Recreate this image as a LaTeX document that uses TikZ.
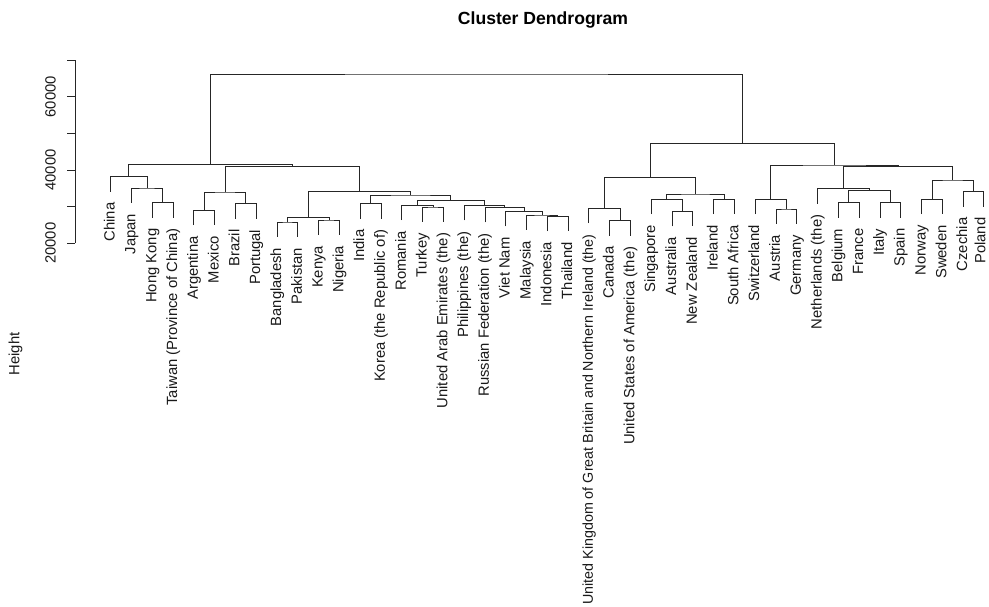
\documentclass[tikz,border=0pt]{standalone}
\usepackage{fontspec}
\setmainfont{Liberation Sans}
\usetikzlibrary{calc}
\newcommand{\leafnode}[6]{%
  \pgfmathsetmacro{\dLx}{110.7+20.79*#2}%
  \pgfmathsetmacro{\dLy}{#3+14.8}%
  \coordinate (#1) at (\dLx,\dLy);
  \node[leaflab,#5] (#1-lab) at (\dLx+4+#6,\dLy+11) {#4};
}
\newcommand{\mergeat}[4]{%
  \path let \p1=(#2), \p2=(#3) in coordinate (#1) at ({0.5*(\x1+\x2)},{-#4pt});
  \draw[dline] (#2) |- (#1) -| (#3);
}
\begin{document}
\begin{tikzpicture}[x=1pt,y=-1pt,
  dline/.style={draw=black!85,line width=0.8pt},
  leaflab/.style={rotate=90,anchor=base east,inner sep=0pt,text=black!90,font=\fontsize{14.8}{17}\selectfont},
  smalllab/.style={font=\fontsize{14.3}{16}\selectfont},
  axlab/.style={rotate=90,anchor=base,inner sep=0pt,text=black!90,font=\fontsize{14.8}{17}\selectfont}]
\useasboundingbox[fill=white] (0,0) rectangle (989,606);
% title and axis title
\node[anchor=base,inner sep=0pt,font=\bfseries\fontsize{17.6}{20}\selectfont] (title) at (543,24) {Cluster Dendrogram};
\node[axlab] (ylab) at (19.5,354) {Height};
% y axis
\draw[dline] (75,60) -- (75,243.3);
\foreach \v/\yy in {20000/243.3,30000/206.7,40000/170,50000/133.3,60000/96.7,70000/60}{
  \draw[dline] (75,\yy) -- (67,\yy);
}
\node[axlab] (t20) at (55.5,243.3) {20000};
\node[axlab] (t40) at (55.5,170) {40000};
\node[axlab] (t60) at (55.5,96.7) {60000};
% leaves
\leafnode{china}{0}{176.7}{China}{}{0}
\leafnode{japan}{1}{188}{Japan}{}{0}
\leafnode{hk}{2}{202.7}{Hong Kong}{}{0}
\leafnode{taiwan}{3}{202.7}{Taiwan (Province of China)}{}{0}
\leafnode{arg}{4}{210.3}{Argentina}{}{0}
\leafnode{mex}{5}{210.3}{Mexico}{}{0}
\leafnode{bra}{6}{203.7}{Brazil}{}{0}
\leafnode{por}{7}{203.7}{Portugal}{}{0}
\leafnode{ban}{8}{222}{Bangladesh}{}{0}
\leafnode{pak}{9}{222}{Pakistan}{}{0}
\leafnode{ken}{10}{220}{Kenya}{}{0}
\leafnode{nig}{11}{220}{Nigeria}{}{0}
\leafnode{ind}{12}{203.7}{India}{}{0}
\leafnode{kor}{13}{203.7}{Korea (the Republic of)}{}{0}
\leafnode{rom}{14}{205.3}{Romania}{}{0}
\leafnode{tur}{15}{207}{Turkey}{}{0}
\leafnode{uae}{16}{207}{United Arab Emirates (the)}{}{0}
\leafnode{phi}{17}{205.5}{Philippines (the)}{}{0}
\leafnode{rus}{18}{207.5}{Russian Federation (the)}{}{0}
\leafnode{vie}{19}{211.5}{Viet Nam}{}{0}
\leafnode{mal}{20}{215}{Malaysia}{}{0}
\leafnode{ido}{21}{216.3}{Indonesia}{}{0}
\leafnode{tha}{22}{216.3}{Thailand}{}{0}
\leafnode{uk}{23}{208.3}{United Kingdom of Great Britain and Northern Ireland (the)}{smalllab}{0}
\leafnode{can}{24}{220.7}{Canada}{}{0}
\leafnode{usa}{25}{220.7}{United States of America (the)}{}{0}
\leafnode{sin}{26}{199.3}{Singapore}{}{0}
\leafnode{aus}{27}{211.5}{Australia}{}{0}
\leafnode{nz}{28}{211.5}{New Zealand}{}{0}
\leafnode{ire}{29}{199.3}{Ireland}{}{0}
\leafnode{sa}{30}{199.3}{South Africa}{}{0}
\leafnode{swi}{31}{199.3}{Switzerland}{}{0}
\leafnode{aut}{32}{209}{Austria}{}{0}
\leafnode{ger}{33}{209}{Germany}{}{0}
\leafnode{net}{34}{188.7}{Netherlands (the)}{}{0}
\leafnode{bel}{35}{202.7}{Belgium}{}{0}
\leafnode{fra}{36}{202.7}{France}{}{0}
\leafnode{ita}{37}{202.7}{Italy}{}{0}
\leafnode{spa}{38}{202.7}{Spain}{}{0}
\leafnode{nor}{39}{199.3}{Norway}{}{0}
\leafnode{swe}{40}{199.3}{Sweden}{}{0}
\leafnode{cze}{41}{191.7}{Czechia}{}{0}
\leafnode{pol}{42}{191.7}{Poland}{}{-2.5}
% merges
\mergeat{mhkt}{hk}{taiwan}{202.7}
\mergeat{mjap}{japan}{mhkt}{188}
\mergeat{A}{china}{mjap}{176.7}
\mergeat{am}{arg}{mex}{210.3}
\mergeat{bp}{bra}{por}{203.7}
\mergeat{B}{am}{bp}{192}
\mergeat{bpak}{ban}{pak}{222}
\mergeat{kn}{ken}{nig}{220}
\mergeat{C1}{bpak}{kn}{217.3}
\mergeat{ik}{ind}{kor}{203.7}
\mergeat{tu}{tur}{uae}{207}
\mergeat{rtu}{rom}{tu}{205.3}
\mergeat{it}{ido}{tha}{216.3}
\mergeat{mit}{mal}{it}{215}
\mergeat{vmit}{vie}{mit}{211.5}
\mergeat{rv}{rus}{vmit}{207.5}
\mergeat{pr}{phi}{rv}{205.5}
\mergeat{rest}{rtu}{pr}{200.7}
\mergeat{C2}{ik}{rest}{195}
\mergeat{C}{C1}{C2}{191.7}
\mergeat{BC}{B}{C}{166.3}
\mergeat{L}{A}{BC}{164.7}
\mergeat{cu}{can}{usa}{220.7}
\mergeat{ukg}{uk}{cu}{208.3}
\mergeat{an}{aus}{nz}{211.5}
\mergeat{san}{sin}{an}{199.3}
\mergeat{isa}{ire}{sa}{199.3}
\mergeat{sg}{san}{isa}{194}
\mergeat{R1}{ukg}{sg}{177.3}
\mergeat{ag}{aut}{ger}{209}
\mergeat{S}{swi}{ag}{199.3}
\mergeat{bf}{bel}{fra}{202.7}
\mergeat{isp}{ita}{spa}{202.7}
\mergeat{bfis}{bf}{isp}{190.3}
\mergeat{W}{net}{bfis}{188.7}
\mergeat{ns}{nor}{swe}{199.3}
\mergeat{cp}{cze}{pol}{191.7}
\mergeat{N}{ns}{cp}{180}
\mergeat{WN}{W}{N}{166.7}
\mergeat{R2}{S}{WN}{165}
\mergeat{R}{R1}{R2}{143.3}
\mergeat{root}{L}{R}{74}
\end{tikzpicture}
\end{document}
